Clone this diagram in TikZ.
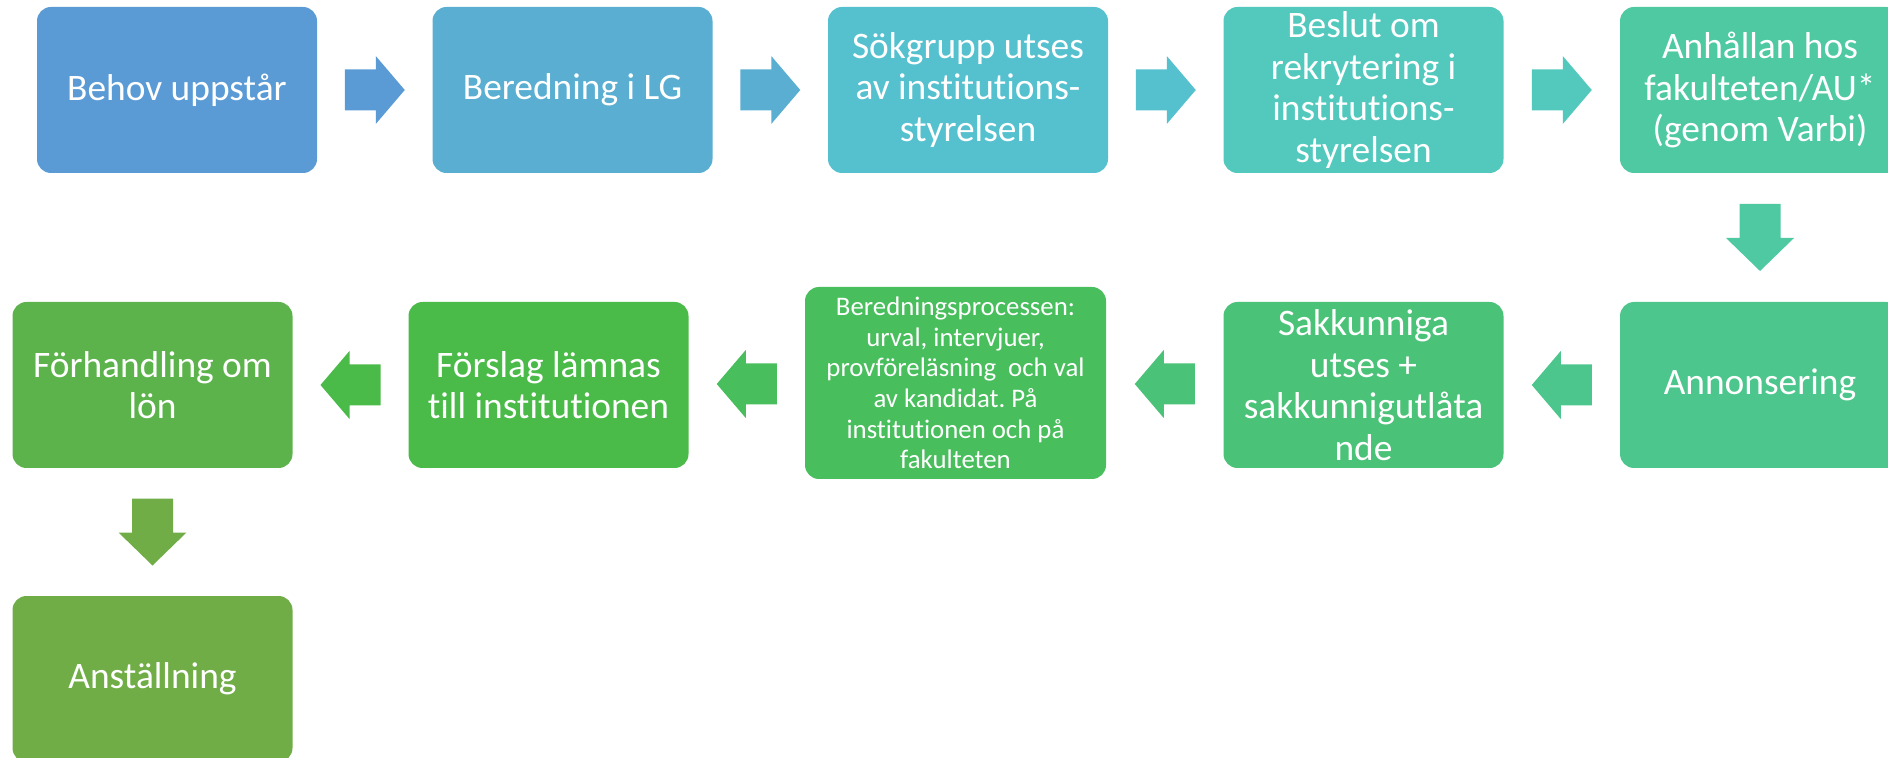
\documentclass[tikz,border=0pt]{standalone}
\usepackage{fontspec}
\setmainfont{Carlito}[Ligatures=NoCommon]
\frenchspacing
\usepackage{tikz}
\usetikzlibrary{calc}
\pgfdeclarelayer{nodelayer}
\pgfdeclarelayer{edgelayer}
\pgfsetlayers{edgelayer,nodelayer,main}
\definecolor{cA}{HTML}{5B9BD5}
\definecolor{cB}{HTML}{59AED1}
\definecolor{cC}{HTML}{55C1CF}
\definecolor{cD}{HTML}{53C9BE}
\definecolor{cE}{HTML}{4FC9A2}
\definecolor{cF}{HTML}{4CC68D}
\definecolor{cG}{HTML}{4AC277}
\definecolor{cH}{HTML}{48BE5C}
\definecolor{cI}{HTML}{4ABA48}
\definecolor{cJ}{HTML}{5DB34B}
\definecolor{cK}{HTML}{70AD47}
\tikzset{stepbox/.style={rectangle, rounded corners=7pt, draw=none, text=white, align=center,
minimum width=140pt, minimum height=83pt, inner sep=0pt, font=\fontsize{18.7}{20.8}\selectfont}}
\tikzset{smallbox/.style={stepbox, minimum width=150.5pt, minimum height=96pt,
font=\fontsize{13.4}{15.3}\selectfont}}
\tikzset{pics/rarr/.style={code={
\fill[#1] (-30,-20.5) -- (1,-20.5) -- (1,-34) -- (30,0) -- (1,34) -- (1,20.5) -- (-30,20.5) -- cycle;}}}
\tikzset{pics/darr/.style={code={
\fill[#1] (-20.5,-33.5) -- (20.5,-33.5) -- (20.5,0.5) -- (34,0.5) -- (0,33.5) -- (-34,0.5) -- (-20.5,0.5) -- cycle;}}}

\begin{document}
\begin{tikzpicture}[x=0.5pt, y=-0.5pt]
	\useasboundingbox (0,0) rectangle (1888,758);
	\clip (0,0) rectangle (1888,758);
	\begin{pgfonlayer}{nodelayer}
		\node [stepbox, fill=cA] (behov) at (177, 90) {Behov uppstår};
		\node [stepbox, fill=cB] (lg) at (572.5, 90) {Beredning i LG};
		\node [stepbox, fill=cC] (sokgrupp) at (968, 90) {Sökgrupp utses\\av institutions-\\styrelsen};
		\node [stepbox, fill=cD] (beslut) at (1363.5, 90) {Beslut om\\rekrytering i\\institutions-\\styrelsen};
		\node [stepbox, fill=cE] (anhallan) at (1760, 90) {Anhållan hos\\fakulteten/AU*\\(genom Varbi)};
		\node [stepbox, fill=cF] (annons) at (1760, 385) {Annonsering};
		\node [stepbox, fill=cG] (sakk) at (1363.5, 385) {Sakkunniga\\utses +\\sakkunnigutlåta\\nde};
		\node [smallbox, fill=cH] (process) at (955.5, 383) {Beredningsprocessen:\\urval, intervjuer,\\provföreläsning\ \ och val\\av kandidat. På\\institutionen och på\\fakulteten};
		\node [stepbox, fill=cI] (forslag) at (548.5, 385) {Förslag lämnas\\till institutionen};
		\node [stepbox, fill=cJ] (lon) at (152.5, 385) {Förhandling om\\lön};
		\node [stepbox, fill=cK] (anst) at (152.5, 679) {Anställning};
	\end{pgfonlayer}
	\begin{pgfonlayer}{edgelayer}
		\pic at ($(behov.east)!.5!(lg.west)$) {rarr=cA};
		\pic at ($(lg.east)!.5!(sokgrupp.west)$) {rarr=cB};
		\pic at ($(sokgrupp.east)!.5!(beslut.west)$) {rarr=cC};
		\pic at ($(beslut.east)!.5!(anhallan.west)$) {rarr=cD};
		\pic at ($(anhallan.south)!.5!(annons.north)$) {darr=cE};
		\pic [rotate=180] at ($(sakk.east)!.5!(annons.west)$) {rarr=cF};
		\pic [rotate=180] at ($(process.east)!.5!(sakk.west)$) {rarr=cG};
		\pic [rotate=180] at ($(forslag.east)!.5!(process.west)$) {rarr=cH};
		\pic [rotate=180] at ($(lon.east)!.5!(forslag.west)$) {rarr=cI};
		\pic at ($(lon.south)!.5!(anst.north)$) {darr=cK};
	\end{pgfonlayer}
\end{tikzpicture}
\end{document}
